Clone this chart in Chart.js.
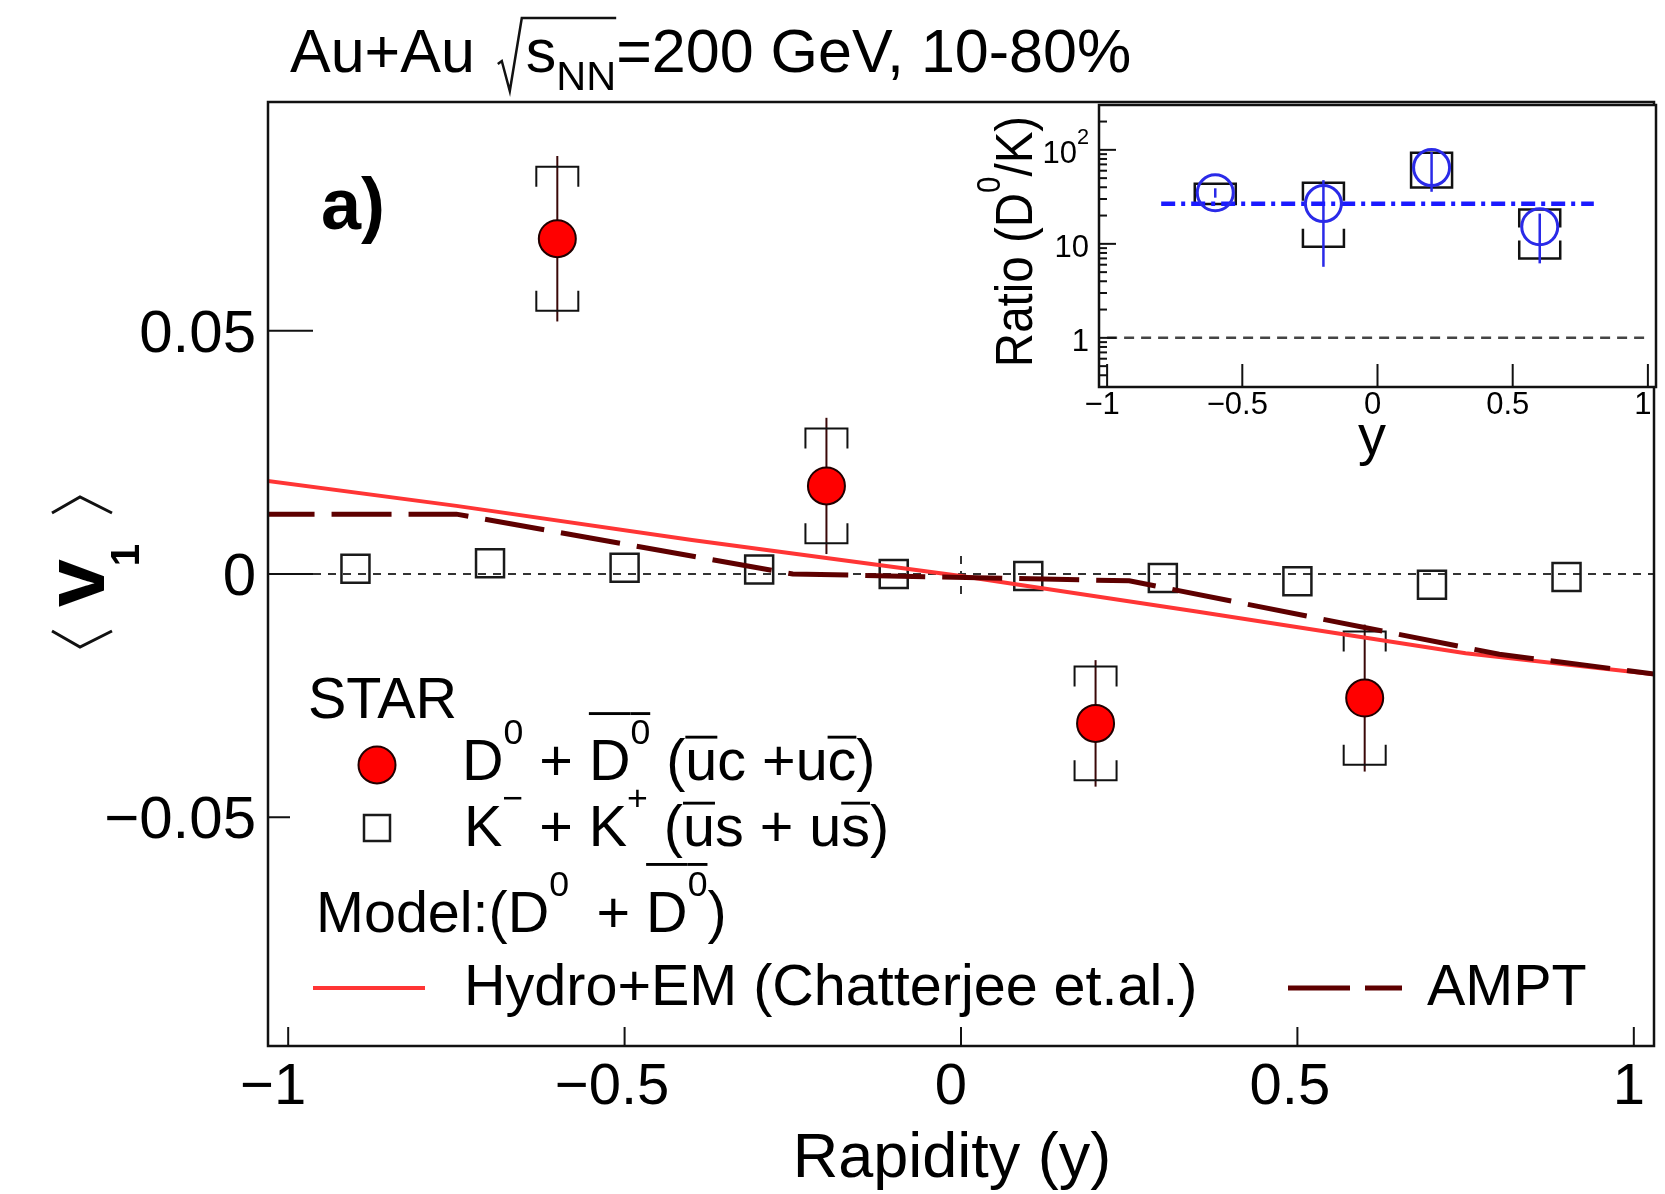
<!DOCTYPE html>
<html>
<head>
<meta charset="utf-8">
<title>D0 v1 vs rapidity</title>
<script src="https://cdn.jsdelivr.net/npm/chart.js@4.4.1/dist/chart.umd.min.js"></script>
<style>
  html, body { margin: 0; padding: 0; background: #fff; }
  #wrap { position: relative; width: 1665px; height: 1194px; overflow: hidden; }
  #main { position: absolute; left: 0; top: 0; }
  #inset { position: absolute; left: 960px; top: 95px; }
</style>
</head>
<body>
<div id="wrap">
  <canvas id="main" width="1665" height="1194"></canvas>
  <canvas id="inset" width="705" height="400"></canvas>
</div>
<script>
// --- DATA ---
// D0 + D0bar directed flow
const rapidityD0 = [-0.6, -0.2, 0.2, 0.6];
const v1D0 = [0.0689, 0.0181, -0.0307, -0.0255];
const statD0 = [0.0170, 0.0140, 0.0130, 0.0151];
const sysD0 = [0.0148, 0.0118, 0.0117, 0.0137];

// K- + K+ directed flow
const rapidityK = [-0.9, -0.7, -0.5, -0.3, -0.1, 0.1, 0.3, 0.5, 0.7, 0.9];
const v1K = [0.0011, 0.0022, 0.0013, 0.0009, 0.0000, -0.0004, -0.0008, -0.0015, -0.0022, -0.0006];

// model curves
const hydroY = [-1.05, -0.75, -0.4, 0, 0.35, 0.75, 1.05];
const hydroV1 = [0.0195, 0.0140, 0.0070, -0.0004, -0.0077, -0.0163, -0.0209];
const amptY = [-1.05, -0.75, -0.25, 0.25, 0.8, 1.05];
const amptV1 = [0.0123, 0.0123, 0.0000, -0.0014, -0.0165, -0.0209];

// inset: slope ratio D0/K
const ratioY = [-0.6, -0.2, 0.2, 0.6];
const ratio = [34.9, 26.8, 64.7, 15.2];
const ratioStatLo = [31, 5.7, 35.8, 6.2];
const ratioStatHi = [39, 47.6, 95, 21];
const ratioSysLo = [26.6, 9.3, 39.7, 7.0];
const ratioSysHi = [43.5, 44.6, 93, 23.2];
const fitY = [-0.8, 0.8];
const fitRatio = [26.7, 26.7];

// axes
const xTicks = [-1, -0.5, 0, 0.5, 1];
const v1Ticks = [-0.05, 0, 0.05];
const ratioTicks = [1, 10, 100];

const FONT = '"Liberation Sans", Arial, Helvetica, sans-serif';
const font = (size, bold) => `${bold ? 'bold ' : ''}${size}px ${FONT}`;
const fmtTick = v => v === 0 ? '0' : (v < 0 ? '\u2212' : '') + Math.abs(v);

// text with superscripts, subscripts and overlines
function drawRich(ctx, x, y, parts, size, draw = true) {
  let cx = x;
  ctx.textAlign = 'left';
  ctx.textBaseline = 'alphabetic';
  for (const p of parts) {
    const s = (p.sup || p.sub) ? size * (p.k || 0.62) : size;
    ctx.font = font(s, p.bold);
    const dy = p.sup ? -size * 0.62 : p.sub ? size * 0.3 : 0;
    const w = ctx.measureText(p.t).width;
    if (draw) {
      ctx.fillText(p.t, cx, y + dy);
      if (p.bar) ctx.fillRect(cx, y - size * p.bar, w, Math.max(2.5, size * 0.05));
    }
    cx += w;
  }
  return cx - x;
}

function line(ctx, x1, y1, x2, y2) {
  ctx.beginPath(); ctx.moveTo(x1, y1); ctx.lineTo(x2, y2); ctx.stroke();
}

function brackets(ctx, px, yTop, yBot, hw, arm) {
  const a = Math.min(arm, (yBot - yTop) / 2);
  ctx.beginPath();
  ctx.moveTo(px - hw, yTop + a); ctx.lineTo(px - hw, yTop); ctx.lineTo(px + hw, yTop); ctx.lineTo(px + hw, yTop + a);
  ctx.moveTo(px - hw, yBot - a); ctx.lineTo(px - hw, yBot); ctx.lineTo(px + hw, yBot); ctx.lineTo(px + hw, yBot - a);
  ctx.stroke();
}

// fixed axis boxes; tick labels are painted by the plugins below
const axisX = (ticks, h) => ({
  type: 'linear', min: -1.03, max: 1.03,
  afterBuildTicks: axis => { axis.ticks = ticks.map(value => ({ value })); },
  afterFit: s => { s.height = h; },
  grid: { display: false, drawTicks: false },
  border: { display: false },
  ticks: { display: false }
});

// --- MAIN PANEL ---
const mainDecor = {
  id: 'mainDecor',
  beforeDatasetsDraw(chart) {
    const { ctx, chartArea: a, scales: { x, y } } = chart;
    ctx.save();
    ctx.strokeStyle = '#333';
    ctx.lineWidth = 2;
    ctx.setLineDash([8, 7]);
    const y0 = y.getPixelForValue(0);
    line(ctx, a.left, y0, a.right, y0);
    const x0 = x.getPixelForValue(0);
    line(ctx, x0, y.getPixelForValue(0.0037), x0, y.getPixelForValue(-0.0042));
    ctx.setLineDash([]);

    rapidityD0.forEach((r, i) => {
      const px = x.getPixelForValue(r);
      ctx.strokeStyle = '#3a0808';
      ctx.lineWidth = 2;
      line(ctx, px, y.getPixelForValue(v1D0[i] + statD0[i]), px, y.getPixelForValue(v1D0[i] - statD0[i]));
      ctx.strokeStyle = '#111';
      brackets(ctx, px, y.getPixelForValue(v1D0[i] + sysD0[i]), y.getPixelForValue(v1D0[i] - sysD0[i]), 21, 20);
    });
    ctx.restore();
  },
  afterDraw(chart) {
    const { ctx, chartArea: a, scales: { x, y } } = chart;
    ctx.save();
    ctx.fillStyle = '#000';
    ctx.strokeStyle = '#111';
    ctx.lineWidth = 2;

    // ticks and tick labels
    y.ticks.forEach(t => line(ctx, a.left, y.getPixelForValue(t.value), a.left + 45, y.getPixelForValue(t.value)));
    x.ticks.forEach(t => line(ctx, x.getPixelForValue(t.value), a.bottom, x.getPixelForValue(t.value), a.bottom - 19));
    ctx.font = font(60);
    ctx.textAlign = 'right';
    y.ticks.forEach(t => ctx.fillText(fmtTick(t.value), a.left - 12, y.getPixelForValue(t.value) + 21));
    ctx.font = font(58);
    ctx.textAlign = 'center';
    // labels sit a little left of their ticks, more so on the negative side
    x.ticks.forEach(t => ctx.fillText(fmtTick(t.value), x.getPixelForValue(t.value) - 10 + 5 * t.value, 1104));
    ctx.textAlign = 'left';
    ctx.lineWidth = 2.5;
    ctx.strokeRect(a.left, a.top, a.right - a.left, a.bottom - a.top);

    // title
    let cx = 290;
    const by = 72;
    const ts = 61;
    cx += drawRich(ctx, cx, by, [{ t: 'Au+Au ' }], ts) + 6;
    const nnW = drawRich(ctx, 0, 0, [{ t: 's' }, { t: 'NN', sub: 1, k: 0.68 }], ts, false);
    ctx.lineWidth = 2.5;
    ctx.beginPath();
    ctx.moveTo(cx, by - 8); ctx.lineTo(cx + 4, by - 11); ctx.lineTo(cx + 12, by + 19);
    ctx.lineTo(cx + 24, by - 54); ctx.lineTo(cx + 28 + nnW, by - 54);
    ctx.stroke();
    cx += 28;
    drawRich(ctx, cx, by, [{ t: 's' }, { t: 'NN', sub: 1, k: 0.68 }, { t: '=200 GeV, 10-80%' }], ts);

    // panel label
    ctx.font = font(72, true);
    ctx.fillText('a)', 321, 229);

    // y axis title: < v_1 >
    const c = { x: 82, y: 572 };
    ctx.lineWidth = 3;
    ctx.beginPath();
    ctx.moveTo(c.x - 30, c.y + 59); ctx.lineTo(c.x - 2, c.y + 75); ctx.lineTo(c.x + 30, c.y + 59);
    ctx.moveTo(c.x - 30, c.y - 59); ctx.lineTo(c.x - 2, c.y - 75); ctx.lineTo(c.x + 30, c.y - 59);
    ctx.stroke();
    ctx.save();
    ctx.translate(104, 607);
    ctx.rotate(-Math.PI / 2);
    ctx.font = font(86, true);
    ctx.fillText('v', 0, 0);
    const vw = ctx.measureText('v').width;
    ctx.font = font(40, true);
    ctx.fillText('1', vw - 7, 35);
    ctx.restore();

    // x axis title
    ctx.font = font(63);
    ctx.textAlign = 'center';
    ctx.fillText('Rapidity (y)', 952, 1177);
    ctx.textAlign = 'left';

    // legend
    ctx.fillStyle = '#fff';
    ctx.fillRect(290, 632, 600, 250);
    ctx.fillStyle = '#000';
    const ls = 57.5;
    drawRich(ctx, 308, 718, [{ t: 'STAR' }], ls);
    ctx.beginPath();
    ctx.arc(377, 765, 18.5, 0, Math.PI * 2);
    ctx.fillStyle = '#ff0000'; ctx.fill();
    ctx.strokeStyle = '#200000'; ctx.lineWidth = 2; ctx.stroke();
    ctx.fillStyle = '#000';
    drawRich(ctx, 462, 780, [
      { t: 'D' }, { t: '0', sup: 1 }, { t: ' + ' }, { t: 'D', bar: 1.18 }, { t: '0', sup: 1, bar: 1.18 },
      { t: ' (' }, { t: 'u', bar: 0.77 }, { t: 'c +u' }, { t: 'c', bar: 0.77 }, { t: ')' }
    ], ls);
    ctx.strokeStyle = '#1a1a1a'; ctx.lineWidth = 2.5;
    ctx.strokeRect(364, 815, 26, 26);
    drawRich(ctx, 464, 846, [
      { t: 'K' }, { t: '\u2212', sup: 1 }, { t: ' + K' }, { t: '+', sup: 1 },
      { t: ' (' }, { t: 'u', bar: 0.77 }, { t: 's + u' }, { t: 's', bar: 0.77 }, { t: ')' }
    ], ls);
    drawRich(ctx, 316, 932, [
      { t: 'Model:(D' }, { t: '0', sup: 1 }, { t: ' \u2009+ ' }, { t: 'D', bar: 1.2 }, { t: '0', sup: 1, bar: 1.2 }, { t: ')' }
    ], ls);
    ctx.strokeStyle = '#ff3535'; ctx.lineWidth = 4;
    line(ctx, 313, 988, 425, 988);
    drawRich(ctx, 464, 1005, [{ t: 'Hydro+EM (Chatterjee et.al.)' }], ls);
    ctx.strokeStyle = '#5e0000'; ctx.lineWidth = 5;
    ctx.setLineDash([62, 15]);
    line(ctx, 1288, 988, 1402, 988);
    ctx.setLineDash([]);
    drawRich(ctx, 1427, 1005, [{ t: 'AMPT' }], ls);
    ctx.restore();
  }
};

new Chart(document.getElementById('main'), {
  type: 'scatter',
  data: {
    datasets: [
      {
        label: 'D0',
        data: rapidityD0.map((r, i) => ({ x: r, y: v1D0[i] })),
        pointStyle: 'circle', pointRadius: 18.5,
        backgroundColor: '#ff0000', borderColor: '#200000', borderWidth: 2,
        order: 1
      },
      {
        label: 'K',
        data: rapidityK.map((r, i) => ({ x: r, y: v1K[i] })),
        pointStyle: 'rect', pointRadius: 19.8,
        backgroundColor: 'rgba(0,0,0,0)', borderColor: '#1a1a1a', borderWidth: 2.5,
        order: 4
      },
      {
        label: 'AMPT', type: 'line',
        data: amptY.map((r, i) => ({ x: r, y: amptV1[i] })),
        borderColor: '#5e0000', borderWidth: 5, borderDash: [60, 17],
        pointRadius: 0, fill: false, tension: 0, clip: 0,
        order: 2
      },
      {
        label: 'Hydro+EM', type: 'line',
        data: hydroY.map((r, i) => ({ x: r, y: hydroV1[i] })),
        borderColor: '#ff3535', borderWidth: 4,
        pointRadius: 0, fill: false, tension: 0, clip: 0,
        order: 3
      }
    ]
  },
  options: {
    responsive: false,
    animation: false,
    devicePixelRatio: 1,
    events: [],
    layout: { autoPadding: false, padding: { left: 0, top: 102, right: 11, bottom: 0 } },
    plugins: { legend: { display: false }, tooltip: { enabled: false } },
    scales: {
      x: axisX(xTicks, 148),
      y: {
        type: 'linear', min: -0.097, max: 0.097,
        afterBuildTicks: axis => { axis.ticks = v1Ticks.map(value => ({ value })); },
        afterFit: s => { s.width = 268; },
        grid: { display: false, drawTicks: false },
        border: { display: false },
        ticks: { display: false }
      }
    }
  },
  plugins: [mainDecor]
});

// --- INSET: RATIO ---
const insetDecor = {
  id: 'insetDecor',
  beforeDraw(chart) {
    const { ctx, chartArea: a } = chart;
    ctx.save();
    ctx.fillStyle = '#fff';
    ctx.fillRect(a.left, a.top, a.right - a.left, a.bottom - a.top);
    ctx.restore();
  },
  beforeDatasetsDraw(chart) {
    const { ctx, scales: { x, y } } = chart;
    ctx.save();
    ctx.strokeStyle = '#444';
    ctx.lineWidth = 2.5;
    ctx.setLineDash([10, 7]);
    line(ctx, x.getPixelForValue(-1), y.getPixelForValue(1), x.getPixelForValue(1), y.getPixelForValue(1));
    ctx.setLineDash([]);
    ratioY.forEach((r, i) => {
      const px = x.getPixelForValue(r);
      ctx.strokeStyle = '#111';
      ctx.lineWidth = 2.5;
      brackets(ctx, px, y.getPixelForValue(ratioSysHi[i]), y.getPixelForValue(ratioSysLo[i]), 20.5, 18);
      ctx.strokeStyle = '#2a2ae8';
      line(ctx, px, y.getPixelForValue(ratioStatHi[i]), px, y.getPixelForValue(ratioStatLo[i]));
    });
    ctx.restore();
  },
  afterDraw(chart) {
    const { ctx, chartArea: a, scales: { x, y } } = chart;
    ctx.save();
    ctx.strokeStyle = '#111';
    ctx.fillStyle = '#000';
    ctx.lineWidth = 2;
    x.ticks.forEach(t => line(ctx, x.getPixelForValue(t.value), a.bottom, x.getPixelForValue(t.value), a.bottom - 23));
    [0.1, 1, 10, 100].forEach(d => {
      for (let m = 1; m <= 9; m++) {
        const v = m * d;
        if (v < y.min || v > y.max) continue;
        const py = y.getPixelForValue(v);
        line(ctx, a.left, py, a.left + (m === 1 ? 17 : 8), py);
      }
    });
    ctx.lineWidth = 2.5;
    ctx.strokeRect(a.left, a.top, a.right - a.left, a.bottom - a.top);

    // tick labels
    ctx.font = font(31);
    ctx.textAlign = 'center';
    x.ticks.forEach(t => ctx.fillText(fmtTick(t.value), x.getPixelForValue(t.value) - 5, 319));
    y.ticks.forEach(t => {
      const py = y.getPixelForValue(t.value) + 13;
      const parts = t.value === 100 ? [{ t: '10' }, { t: '2', sup: 1, k: 0.7 }] : [{ t: String(t.value) }];
      const w = drawRich(ctx, 0, 0, parts, 31, false);
      drawRich(ctx, a.left - 10 - w, py, parts, 31);
    });

    // axis titles
    const parts = [{ t: 'Ratio (D' }, { t: '0', sup: 1 }, { t: '/K)' }];
    const w = drawRich(ctx, 0, 0, parts, 47.5, false);
    ctx.save();
    ctx.translate(72, 146.5 + w / 2);
    ctx.scale(1.1, 1);
    ctx.rotate(-Math.PI / 2);
    drawRich(ctx, 0, 0, parts, 47.5);
    ctx.restore();
    ctx.font = font(56);
    ctx.textAlign = 'center';
    ctx.fillText('y', 412, 359);
    ctx.restore();
  }
};

new Chart(document.getElementById('inset'), {
  type: 'scatter',
  data: {
    datasets: [
      {
        label: 'ratio',
        data: ratioY.map((r, i) => ({ x: r, y: ratio[i] })),
        pointStyle: 'circle', pointRadius: 18,
        backgroundColor: 'rgba(0,0,0,0)', borderColor: '#2a2ae8', borderWidth: 3,
        order: 1
      },
      {
        label: 'fit', type: 'line',
        data: fitY.map((r, i) => ({ x: r, y: fitRatio[i] })),
        borderColor: '#1a1aff', borderWidth: 4.5, borderDash: [14, 6, 4, 6],
        pointRadius: 0, fill: false,
        order: 2
      }
    ]
  },
  options: {
    responsive: false,
    animation: false,
    devicePixelRatio: 1,
    events: [],
    layout: { autoPadding: false, padding: { left: 0, top: 10, right: 9, bottom: 0 } },
    plugins: { legend: { display: false }, tooltip: { enabled: false } },
    scales: {
      x: axisX(xTicks, 108),
      y: {
        type: 'logarithmic', min: 0.3, max: 300,
        afterBuildTicks: axis => { axis.ticks = ratioTicks.map(value => ({ value })); },
        afterFit: s => { s.width = 139; },
        grid: { display: false, drawTicks: false },
        border: { display: false },
        ticks: { display: false }
      }
    }
  },
  plugins: [insetDecor]
});
</script>
</body>
</html>
